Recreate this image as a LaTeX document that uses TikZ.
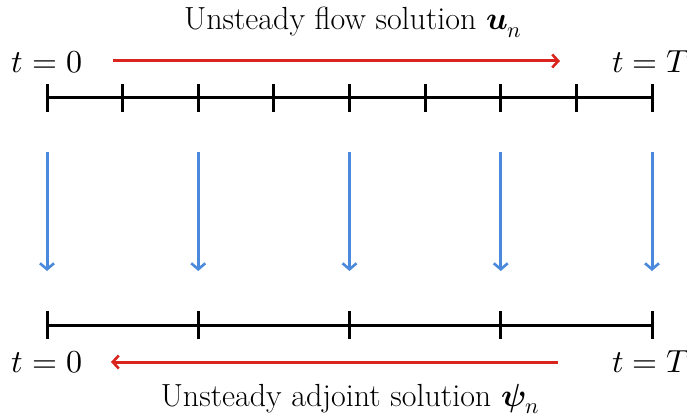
\documentclass[tikz,border=0pt]{standalone}
\usepackage{unicode-math}
\setmathfont{Latin Modern Math}
\usetikzlibrary{arrows.meta}
\definecolor{myred}{RGB}{218,36,30}
\definecolor{myblue}{RGB}{74,137,220}
\begin{document}
\begin{tikzpicture}[x=1pt,y=-1pt,
  axis/.style={line width=3pt,black},
  tick/.style={line width=3pt,black},
  flow/.style={line width=3pt,myred,-{Straight Barb[length=6pt,width=13pt,line width=2.6pt]}},
  transfer/.style={line width=3pt,myblue,-{Straight Barb[length=6pt,width=14pt,line width=2.6pt]}},
  lbl/.style={font=\fontsize{32}{36}\selectfont,inner sep=0pt},
  tlbl/.style={font=\fontsize{32}{36}\selectfont,inner sep=0pt}]
\useasboundingbox (0,0) rectangle (687,419);
% top axis
\foreach \i in {0,...,8} {
  \coordinate (a\i) at ({47+75.625*\i},98);
  \draw[tick] ([yshift=-14pt]a\i) -- ([yshift=14pt]a\i);
}
\draw[axis] (a0) -- (a8);
% bottom axis
\foreach \i in {0,...,4} {
  \coordinate (b\i) at ({47+151.25*\i},325);
  \draw[tick] ([yshift=-14pt]b\i) -- ([yshift=14pt]b\i);
  \coordinate (s\i) at ({47+151.25*\i},152);
  \coordinate (e\i) at ({47+151.25*\i},271);
  \draw[transfer] (s\i) -- (e\i);
}
\draw[axis] (b0) -- (b4);
% labels
\node[tlbl] (t0a) at (47,62) {$t=0$};
\node[tlbl] (tTa) at (651,62) {$t=T$};
\node[tlbl] (t0b) at (47,362) {$t=0$};
\node[tlbl] (tTb) at (651,362) {$t=T$};
\node[lbl] (top) at (353,22) {Unsteady flow solution $\symbfit{u}_n$};
\node[lbl] (bot) at (350,399) {Unsteady adjoint solution $\symbfit{\psi}_n$};
% red arrows
\coordinate (r1) at (113,61);
\coordinate (r2) at (560,61);
\coordinate (r3) at (558,362);
\coordinate (r4) at (111,362);
\draw[flow] (r1) -- (r2);
\draw[flow] (r3) -- (r4);
\end{tikzpicture}
\end{document}
